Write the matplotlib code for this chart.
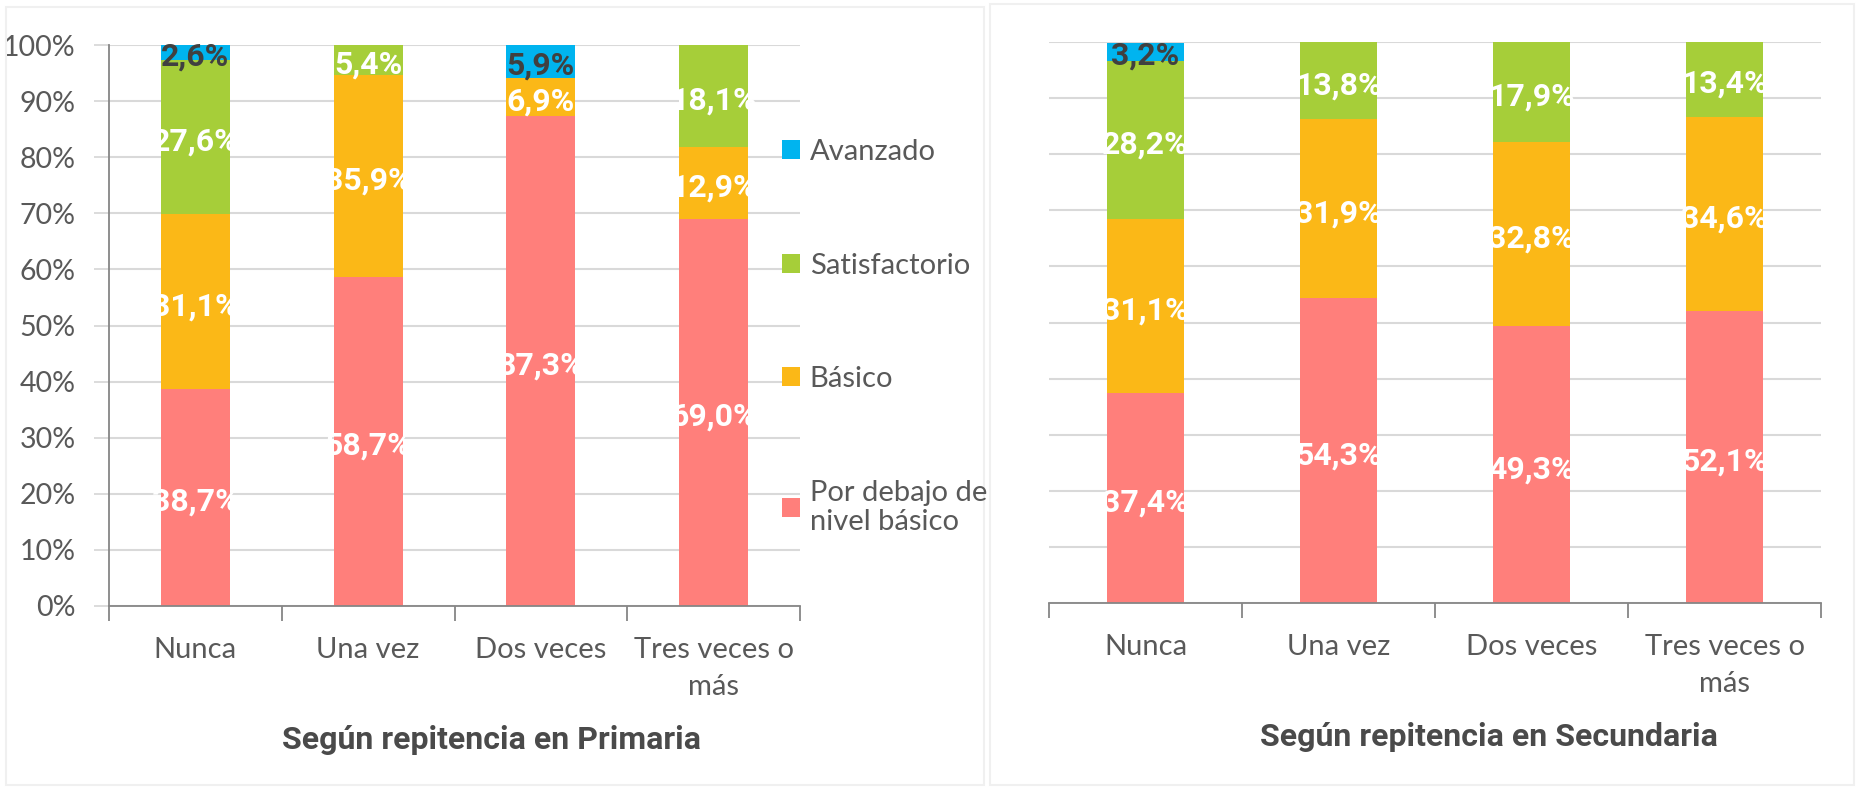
import matplotlib.pyplot as plt
from matplotlib.patches import Patch, Rectangle
import numpy as np

# datos
categorias = ['Nunca', 'Una vez', 'Dos veces', 'Tres veces o\nmás']
niveles = ['Por debajo de\nnivel básico', 'Básico', 'Satisfactorio', 'Avanzado']
colores = ['#FF7F7B', '#FBB817', '#A6CE39', '#00B4EF']

primaria_debajo = [38.7, 58.7, 87.3, 69.0]
primaria_basico = [31.1, 35.9, 6.9, 12.9]
primaria_satisf = [27.6, 5.4, 0.0, 18.1]
primaria_avanz = [2.6, 0.0, 5.9, 0.0]

secundaria_debajo = [37.4, 54.3, 49.3, 52.1]
secundaria_basico = [31.1, 31.9, 32.8, 34.6]
secundaria_satisf = [28.2, 13.8, 17.9, 13.4]
secundaria_avanz = [3.2, 0.0, 0.0, 0.0]

titulos = ['Según repitencia en Primaria', 'Según repitencia en Secundaria']

gris = '#595959'
fuente = ['Lato', 'DejaVu Sans']
fuente_cond = ['Roboto', 'DejaVu Sans']

W, H = 1857, 787
fig = plt.figure(figsize=(W / 100, H / 100), dpi=100)

# marcos de los paneles
fig.patches.append(Rectangle((6 / W, 2 / H), 978 / W, 778 / H, transform=fig.transFigure,
                             fill=False, edgecolor='#f0f0f0', lw=1.5))
fig.patches.append(Rectangle((990 / W, 2 / H), 864 / W, 781 / H, transform=fig.transFigure,
                             fill=False, edgecolor='#f0f0f0', lw=1.5))


def dibujar(ax, series, eje_y):
    x = np.arange(len(categorias))
    base = np.zeros(len(categorias))
    for i, (vals, color) in enumerate(zip(series, colores)):
        vals = np.array(vals)
        ax.bar(x, vals, 0.4, bottom=base, color=color, zorder=2)
        for xi, b, v in zip(x, base, vals):
            if v <= 0:
                continue
            txt = f'{v:.1f}%'.replace('.', ',')
            ax.text(xi, b + v / 2 - 0.8, txt, ha='center', va='center', fontsize=23,
                    fontweight='bold', family=fuente_cond,
                    color='#404040' if i == 3 else 'white', zorder=3)
        base += vals

    ax.set_xlim(-0.5, len(categorias) - 0.5)
    ax.set_ylim(0, 100)
    ax.set_yticks(np.arange(0, 101, 10))
    ax.grid(axis='y', color='#d9d9d9', lw=1.5, zorder=0)
    ax.set_axisbelow(True)

    # ticks del eje x en los limites de categoria, etiquetas al centro
    ax.set_xticks(np.arange(-0.5, len(categorias), 1))
    ax.set_xticks(x, minor=True)
    ax.set_xticklabels([])
    ax.set_xticklabels(categorias, minor=True)
    ax.tick_params(axis='x', which='major', length=11, width=1.3, color='#868686', direction='out')
    ax.tick_params(axis='x', which='minor', length=0, pad=22, labelsize=21, labelcolor=gris)
    for lbl in ax.get_xticklabels(minor=True):
        lbl.set_family(fuente)
        lbl.set_linespacing(1.55)
        lbl.set_va('top')

    for s in ['top', 'right']:
        ax.spines[s].set_visible(False)
    ax.spines['bottom'].set_color('#868686')
    ax.spines['bottom'].set_linewidth(1.3)

    if eje_y:
        ax.spines['left'].set_color('#868686')
        ax.spines['left'].set_linewidth(1.3)
        ax.set_yticklabels([f'{v}%' for v in range(0, 101, 10)])
        ax.tick_params(axis='y', length=11, width=1.3, color='#d9d9d9', pad=13,
                       labelsize=20.5, labelcolor=gris)
        for lbl in ax.get_yticklabels():
            lbl.set_family(fuente)
    else:
        ax.spines['left'].set_visible(False)
        ax.tick_params(axis='y', length=0, labelleft=False)


ax1 = fig.add_axes([109 / W, 1 - 606 / H, 691 / W, 561 / H])
dibujar(ax1, [primaria_debajo, primaria_basico, primaria_satisf, primaria_avanz], True)

ax2 = fig.add_axes([1049 / W, 1 - 603 / H, 772 / W, 561 / H])
dibujar(ax2, [secundaria_debajo, secundaria_basico, secundaria_satisf, secundaria_avanz], False)

fig.text(491 / W, 1 - 740 / H, titulos[0], ha='center', va='center', fontsize=23,
         fontweight='bold', family=fuente_cond, color='#4a4a4a')
fig.text(1489 / W, 1 - 737 / H, titulos[1], ha='center', va='center', fontsize=23,
         fontweight='bold', family=fuente_cond, color='#4a4a4a')

# leyenda
handles = [Patch(facecolor=c, edgecolor='none') for c in colores][::-1]
leg = fig.legend(handles, niveles[::-1], loc='upper left',
                 bbox_to_anchor=(782 / W, 1 - 139 / H), bbox_transform=fig.transFigure,
                 frameon=False, labelspacing=3.0, handlelength=0.62,
                 handleheight=0.62, handletextpad=0.33, borderpad=0, borderaxespad=0,
                 prop={'family': fuente, 'size': 21})
for t in leg.get_texts():
    t.set_color(gris)
    t.set_linespacing(1.15)

fig.savefig('out.png', dpi=100)
